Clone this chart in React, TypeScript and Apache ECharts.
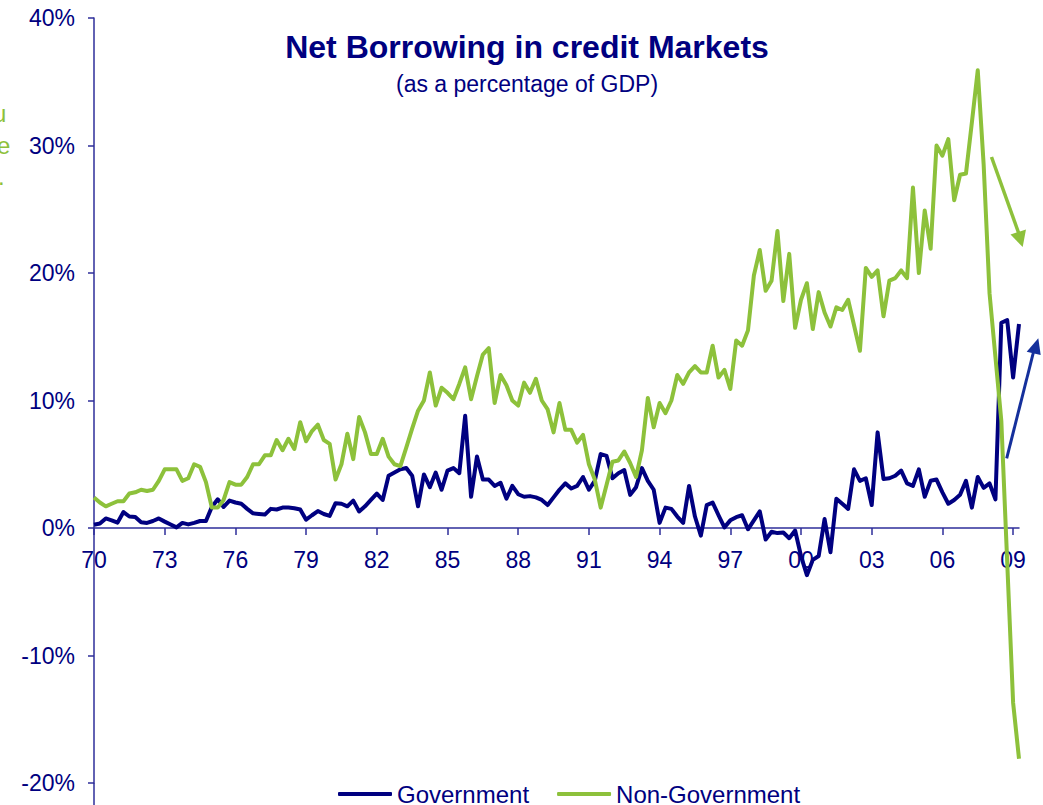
import React, { useEffect, useRef } from "react";
import * as echarts from "echarts";

const seriesNames = ["Government", "Non-Government"];
const yTicks = [-20, -10, 0, 10, 20, 30, 40];
const firstYear = 1970;
const quarterCount = 158; // 1970Q1 .. 2009Q2

const government = [
  0.25, 0.35, 0.75, 0.6, 0.42, 1.25, 0.9, 0.86, 0.45, 0.4, 0.55, 0.75,
  0.5, 0.27, 0.05, 0.4, 0.28, 0.4, 0.55, 0.55, 1.65, 2.25, 1.65, 2.15,
  2.0, 1.9, 1.5, 1.15, 1.1, 1.05, 1.5, 1.45, 1.6, 1.6, 1.55, 1.45,
  0.65, 1.0, 1.33, 1.1, 0.95, 1.95, 1.9, 1.7, 2.15, 1.3, 1.7, 2.2,
  2.7, 2.2, 4.1, 4.35, 4.6, 4.7, 4.1, 1.7, 4.2, 3.2, 4.35, 3.0,
  4.5, 4.7, 4.3, 8.8, 2.45, 5.6, 3.8, 3.8, 3.3, 3.55, 2.3, 3.3,
  2.65, 2.45, 2.5, 2.4, 2.2, 1.8, 2.4, 3.0, 3.5, 3.1, 3.3, 4.0,
  3.0, 3.7, 5.8, 5.65, 3.9, 4.3, 4.55, 2.6, 3.2, 4.7, 3.7, 3.0,
  0.4, 1.6, 1.5, 0.9, 0.4, 3.3, 0.9, -0.6, 1.8, 2.0, 1.0, 0.05,
  0.6, 0.85, 1.0, -0.1, 0.6, 1.3, -0.9, -0.3, -0.4, -0.35, -0.8, -0.2,
  -2.2, -3.7, -2.5, -2.2, 0.7, -1.9, 2.3, 1.9, 1.5, 4.6, 3.7, 3.9,
  1.8, 7.5, 3.85, 3.9, 4.1, 4.5, 3.5, 3.3, 4.6, 2.45, 3.7, 3.8,
  2.8, 1.9, 2.2, 2.6, 3.7, 1.6, 4.0, 3.15, 3.5, 2.25, 16.1, 16.3,
  11.8, 16.0,
];

const nonGovernment = [
  2.4, 2.0, 1.7, 1.9, 2.1, 2.1, 2.7, 2.8, 3.0, 2.9, 3.0, 3.7,
  4.6, 4.6, 4.6, 3.7, 3.9, 5.0, 4.8, 3.6, 1.6, 1.6, 2.2, 3.6,
  3.4, 3.4, 4.0, 5.0, 5.0, 5.7, 5.7, 6.9, 6.1, 7.0, 6.2, 8.3,
  6.8, 7.6, 8.1, 6.9, 6.6, 3.8, 5.0, 7.4, 5.4, 8.7, 7.5, 5.8,
  5.8, 7.0, 5.6, 5.0, 4.85, 6.3, 7.8, 9.2, 10.0, 12.2, 9.6, 11.0,
  10.6, 10.1, 11.3, 12.6, 10.1, 11.9, 13.6, 14.1, 9.8, 12.0, 11.2, 10.0,
  9.6, 11.4, 10.6, 11.7, 10.0, 9.3, 7.5, 9.8, 7.7, 7.7, 6.7, 7.3,
  5.0, 3.8, 1.6, 3.4, 5.2, 5.3, 6.0, 5.1, 4.0, 6.1, 10.2, 7.9,
  9.8, 9.0, 10.0, 12.0, 11.3, 12.2, 12.7, 12.2, 12.2, 14.3, 11.8, 12.4,
  10.9, 14.7, 14.3, 15.5, 19.8, 21.8, 18.6, 19.4, 23.3, 17.8, 21.5, 15.7,
  17.9, 19.2, 15.6, 18.5, 16.9, 15.8, 17.3, 17.1, 17.9, 15.9, 13.9, 20.4,
  19.7, 20.2, 16.6, 19.4, 19.6, 20.2, 19.6, 26.7, 20.0, 24.9, 21.9, 30.0,
  29.2, 30.5, 25.7, 27.7, 27.8, 31.8, 35.9, 28.5, 18.4, 13.4, 8.4, -2.7,
  -13.7, -18.1,
];

const categories: string[] = [];
for (let i = 0; i < quarterCount; i++) {
  const y = firstYear + Math.floor(i / 4);
  categories.push(`${y}Q${(i % 4) + 1}`);
}

const NAVY = "#000080";
const GREEN = "#8dc13b";
const AXIS = "#2e2e9a";
const ARROW_BLUE = "#15309c";
const FONT = "'Liberation Sans', Arial, sans-serif";

// grid geometry
const GRID_TOP = 18;
const GRID_BOTTOM_PX = 783;
const ZERO_PX = GRID_TOP + ((GRID_BOTTOM_PX - GRID_TOP) * yTicks[yTicks.length - 1]) / (yTicks[yTicks.length - 1] - yTicks[0]);

export default function App() {
  const ref = useRef<HTMLDivElement>(null);
  useEffect(() => {
    if (!ref.current) return;
    const chart = echarts.init(ref.current, undefined, { renderer: "svg" });
    chart.setOption({
      animation: false,
      backgroundColor: "#ffffff",
      textStyle: { fontFamily: FONT },
      grid: {
        left: 94,
        right: 24,
        top: GRID_TOP,
        bottom: 805 - GRID_BOTTOM_PX,
        containLabel: false,
        outerBoundsMode: "none",
      },
      legend: {
        data: seriesNames,
        left: 333,
        top: 777,
        itemWidth: 54,
        itemHeight: 4,
        itemGap: 28,
        icon: "roundRect",
        textStyle: { color: NAVY, fontSize: 24, fontFamily: FONT },
      },
      xAxis: {
        type: "category",
        data: categories,
        boundaryGap: false,
        position: "bottom",
        offset: -(GRID_BOTTOM_PX - ZERO_PX),
        axisLine: { onZero: false, lineStyle: { color: AXIS, width: 1.5 } },
        axisTick: { interval: 11, length: 7, lineStyle: { color: AXIS, width: 1.5 } },
        axisLabel: {
          interval: 11,
          margin: 20,
          color: NAVY,
          fontSize: 23,
          fontFamily: FONT,
          formatter: (v: string) => v.slice(2, 4),
        },
        splitLine: { show: false },
      },
      yAxis: {
        type: "value",
        min: yTicks[0],
        max: yTicks[yTicks.length - 1],
        interval: 10,
        axisLine: { show: true, onZero: false, lineStyle: { color: AXIS, width: 1.5 } },
        axisTick: { show: true, length: 6, lineStyle: { color: AXIS, width: 1.5 } },
        axisLabel: {
          margin: 19,
          color: NAVY,
          fontSize: 23,
          fontFamily: FONT,
          formatter: (v: number) => `${v}%`,
        },
        splitLine: { show: false },
      },
      series: [
        {
          name: seriesNames[0],
          type: "line",
          data: government,
          showSymbol: false,
          symbol: "none",
          lineStyle: { color: NAVY, width: 4, join: "round" },
          itemStyle: { color: NAVY },
          z: 2,
        },
        {
          name: seriesNames[1],
          type: "line",
          data: nonGovernment,
          showSymbol: false,
          symbol: "none",
          lineStyle: { color: GREEN, width: 4, join: "round" },
          itemStyle: { color: GREEN },
          z: 3,
        },
      ],
      graphic: [
        {
          type: "text",
          x: 527,
          y: 47,
          style: {
            text: "Net Borrowing in credit Markets",
            fill: NAVY,
            font: `bold 32px ${FONT}`,
            align: "center",
            verticalAlign: "middle",
          },
        },
        {
          type: "text",
          x: 527,
          y: 84,
          style: {
            text: "(as a percentage of GDP)",
            fill: NAVY,
            font: `23px ${FONT}`,
            align: "center",
            verticalAlign: "middle",
          },
        },
        {
          type: "text",
          x: -7,
          y: 113,
          style: { text: "u", fill: GREEN, font: `24px ${FONT}`, verticalAlign: "middle" },
        },
        {
          type: "text",
          x: -3,
          y: 145,
          style: { text: "e", fill: GREEN, font: `24px ${FONT}`, verticalAlign: "middle" },
        },
        {
          type: "text",
          x: -2,
          y: 176,
          style: { text: ".", fill: GREEN, font: `24px ${FONT}`, verticalAlign: "middle" },
        },
        {
          type: "line",
          shape: { x1: 94, y1: GRID_BOTTOM_PX, x2: 94, y2: 805 },
          style: { stroke: AXIS, lineWidth: 1.5 },
        },
        {
          type: "line",
          shape: { x1: 991.5, y1: 157, x2: 1019, y2: 234 },
          style: { stroke: GREEN, lineWidth: 3.5 },
          z: 10,
        },
        {
          type: "polygon",
          shape: { points: [[1010.5, 234.5], [1026, 229.5], [1022.7, 247]] },
          style: { fill: GREEN },
          z: 10,
        },
        {
          type: "line",
          shape: { x1: 1006.7, y1: 458.3, x2: 1034, y2: 350 },
          style: { stroke: ARROW_BLUE, lineWidth: 3 },
          z: 10,
        },
        {
          type: "polygon",
          shape: { points: [[1026.7, 351.7], [1038.3, 338.3], [1040.7, 355]] },
          style: { fill: ARROW_BLUE },
          z: 10,
        },
      ],
    });
    return () => chart.dispose();
  }, []);
  return (
    <div
      ref={ref}
      style={{ position: "absolute", left: 0, top: 0, width: 1043, height: 805 }}
    />
  );
}
